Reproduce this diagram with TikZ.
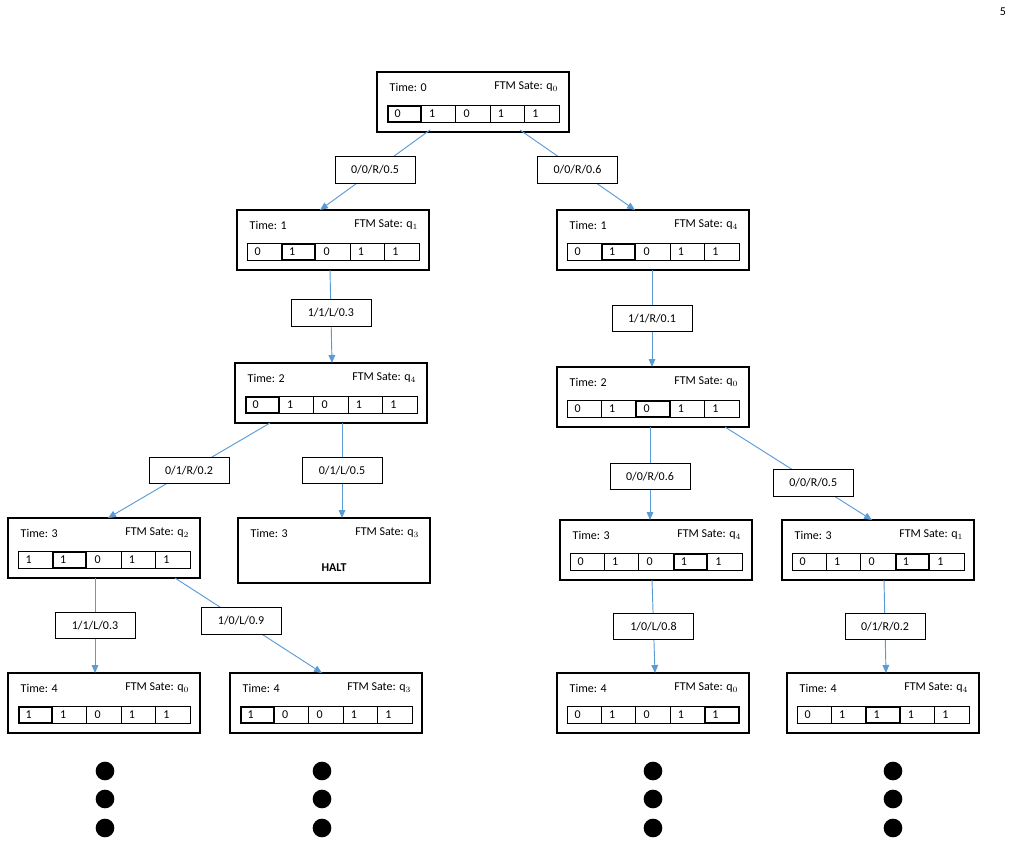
\documentclass[tikz,border=0pt]{standalone}
\usepackage{fontspec}
\setmainfont{Carlito}
\usetikzlibrary{arrows.meta}
\definecolor{edgeblue}{RGB}{91,155,213}

\tikzset{
  box/.style={draw=black,line width=0.8pt},
  cell/.style={draw=black,line width=0.5pt},
  lab/.style={draw=black,fill=white,line width=0.6pt,minimum width=60pt,minimum height=20pt,font=\small},
  edge/.style={draw=edgeblue,line width=0.7pt,-{Triangle[length=6pt,width=5pt]}},
  dot/.style={circle,fill=black,inner sep=0pt,minimum size=14pt}
}

% #1 name, #2 x, #3 y (top left), #4 time, #5 state, #6 cells, #7 head
\newcommand\tmstate[7]{%
  \draw[box] (#2,#3) rectangle ++(192,60);
  \node[anchor=west,font=\small] (#1t) at (#2+8,#3+15) {Time: #4};
  \node[anchor=east,font=\small] (#1s) at (#2+186,#3+15) {FTM Sate: q$_{#5}$};
  \foreach \c [count=\i from 0] in {#6} {
    \draw[cell] (#2+10+\i*34.4,#3+33) rectangle ++(34.4,17);
    \node[anchor=west,font=\small] at (#2+13+\i*34.4,#3+41.5) {\c};
  }
  \draw[cell] (#2+11+#7*34.4,#3+34) rectangle ++(32.4,15);
}

\begin{document}
\begin{tikzpicture}[x=0.75pt,y=-0.75pt]
  \useasboundingbox (0,0) rectangle (1014,846);
  \node[font=\small] (page) at (1003,12) {5};

  % states
  \tmstate{s0}{377}{72}{0}{0}{0,1,0,1,1}{0}
  \tmstate{a1}{237}{210}{1}{1}{0,1,0,1,1}{1}
  \tmstate{b1}{557}{210}{1}{4}{0,1,0,1,1}{1}
  \tmstate{a2}{235}{363}{2}{4}{0,1,0,1,1}{0}
  \tmstate{b2}{557}{367}{2}{0}{0,1,0,1,1}{2}
  \tmstate{aa3}{8}{518}{3}{2}{1,1,0,1,1}{1}
  \tmstate{ba3}{560}{520}{3}{4}{0,1,0,1,1}{3}
  \tmstate{bb3}{782}{520}{3}{1}{0,1,0,1,1}{3}
  \tmstate{aa4}{8}{673}{4}{0}{1,1,0,1,1}{0}
  \tmstate{ab4}{230}{673}{4}{3}{1,0,0,1,1}{0}
  \tmstate{ba4}{557}{673}{4}{0}{0,1,0,1,1}{4}
  \tmstate{bb4}{787}{673}{4}{4}{0,1,1,1,1}{2}

  % halting state
  \draw[box] (238,518) rectangle ++(192,65);
  \node[anchor=west,font=\small] (halt3t) at (246,533) {Time: 3};
  \node[anchor=east,font=\small] (halt3s) at (424,533) {FTM Sate: q$_3$};
  \node[font=\small\bfseries] (halt) at (334,568) {HALT};

  % connector ends
  \coordinate (s0l) at (430,130);  \coordinate (a1t) at (320,210);
  \coordinate (s0r) at (520,130);  \coordinate (b1t) at (635,210);
  \coordinate (a1b) at (330,270);  \coordinate (a2t) at (332,363);
  \coordinate (b1b) at (652,270);  \coordinate (b2t) at (652,367);
  \coordinate (a2l) at (270,423);  \coordinate (aa3t) at (108,518);
  \coordinate (a2r) at (342,423);  \coordinate (ab3t) at (342,518);
  \coordinate (b2l) at (650,427);  \coordinate (ba3t) at (650,520);
  \coordinate (b2r) at (725,427);  \coordinate (bb3t) at (872,520);
  \coordinate (aa3l) at (95,578);  \coordinate (aa4t) at (95,673);
  \coordinate (aa3r) at (175,578); \coordinate (ab4t) at (322,673);
  \coordinate (ba3b) at (652,580); \coordinate (ba4t) at (655,673);
  \coordinate (bb3b) at (884,580); \coordinate (bb4t) at (886,673);

  \draw[edge] (s0l) -- (a1t) node[lab,pos=0.5] {0/0/R/0.5};
  \draw[edge] (s0r) -- (b1t) node[lab,pos=0.5] {0/0/R/0.6};
  \draw[edge] (a1b) -- (a2t) node[lab,pos=0.46] {1/1/L/0.3};
  \draw[edge] (b1b) -- (b2t) node[lab,pos=0.5] {1/1/R/0.1};
  \draw[edge] (a2l) -- (aa3t) node[lab,pos=0.5] {0/1/R/0.2};
  \draw[edge] (a2r) -- (ab3t) node[lab,pos=0.5] {0/1/L/0.5};
  \draw[edge] (b2l) -- (ba3t) node[lab,pos=0.53] {0/0/R/0.6};
  \draw[edge] (b2r) -- (bb3t) node[lab,pos=0.6] {0/0/R/0.5};
  \draw[edge] (aa3l) -- (aa4t) node[lab,pos=0.5] {1/1/L/0.3};
  \draw[edge] (aa3r) -- (ab4t) node[lab,pos=0.45] {1/0/L/0.9};
  \draw[edge] (ba3b) -- (ba4t) node[lab,pos=0.5] {1/0/L/0.8};
  \draw[edge] (bb3b) -- (bb4t) node[lab,pos=0.5] {0/1/R/0.2};

  % continuation dots
  \foreach \x/\n in {105/a,322/b,653/c,893/d} {
    \node[dot] (\n1) at (\x,771) {};
    \node[dot] (\n2) at (\x,799) {};
    \node[dot] (\n3) at (\x,828) {};
  }
\end{tikzpicture}
\end{document}
